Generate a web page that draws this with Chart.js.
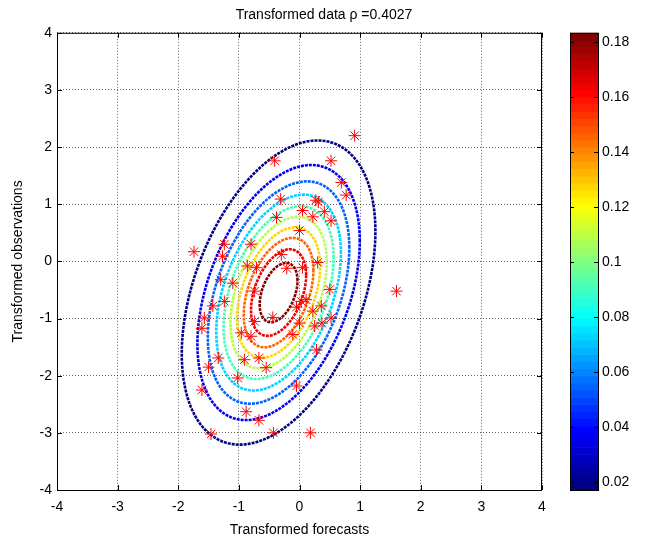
<!DOCTYPE html>
<html>
<head>
<meta charset="utf-8">
<script src="https://cdn.jsdelivr.net/npm/chart.js@4.4.1/dist/chart.umd.min.js"></script>
<style>
  html, body { margin: 0; padding: 0; background: #fff; }
  #wrap { width: 648px; height: 544px; }
</style>
</head>
<body>
<div id="wrap"><canvas id="c" width="648" height="544"></canvas></div>
<script>
// tick labels
const xTicks = [-4, -3, -2, -1, 0, 1, 2, 3, 4];
const yTicks = [-4, -3, -2, -1, 0, 1, 2, 3, 4];
const cbTicks = [0.02, 0.04, 0.06, 0.08, 0.1, 0.12, 0.14, 0.16, 0.18];
const cbRange = [0.0172, 0.1833];

// contour levels of the fitted density
const contourLevels = [0.0172, 0.0357, 0.0541, 0.0726, 0.0910, 0.1095, 0.1280, 0.1464, 0.1649, 0.1833];
const rho = 0.4027;
const meanXY = [-0.345, -0.545];
const sigmaXY = [0.72, 1.20];

// transformed (forecast, observation) pairs
const obsX = [0.91, -0.41, 0.52, 0.69, 0.77, -0.31, 0.27, 0.31, 0.05, 0.41, 0.22, -0.38, 0.52, 0.00,
  -1.74, -1.24, -0.80, -1.27, -0.30, -0.86, -0.71, -0.21, 0.05, 0.30, -1.30, -1.10, -0.74, 0.50, 1.60,
  -1.24, -1.43, 0.03, 0.11, 0.36, -0.05, 0.22, -1.57, -0.44, -0.74, 0.00, 0.37, 0.52, 0.25, -1.61,
  -0.96, -0.80, -0.11, 0.28, -1.34, -0.91, -0.67, -1.50, -0.55, -1.02, -0.05, -1.61, -0.88, -0.67,
  -1.46, -0.43, 0.18];
const obsY = [2.20, 1.76, 1.76, 1.38, 1.16, 1.09, 1.07, 1.04, 0.89, 0.87, 0.78, 0.77, 0.71, 0.54,
  0.17, 0.30, 0.30, 0.09, 0.12, -0.08, -0.11, -0.12, -0.11, -0.02, -0.32, -0.38, -0.52, -0.49, -0.52,
  -0.70, -0.78, -0.70, -0.67, -0.78, -0.80, -0.87, -0.99, -0.98, -1.05, -1.08, -1.08, -0.99, -1.13, -1.17,
  -1.25, -1.31, -1.28, -1.55, -1.69, -1.72, -1.69, -1.85, -1.86, -2.04, -2.18, -2.25, -2.63, -2.78,
  -3.02, -3.00, -3.00];

const FONT = { family: "'Liberation Sans', Arial, sans-serif", size: 14, weight: 'normal' };

function jet(t) {
  const cl = v => Math.max(0, Math.min(1, v));
  const r = cl(Math.min(4 * t - 1.5, -4 * t + 4.5));
  const g = cl(Math.min(4 * t - 0.5, -4 * t + 3.5));
  const b = cl(Math.min(4 * t + 0.5, -4 * t + 2.5));
  return 'rgb(' + Math.round(r * 255) + ',' + Math.round(g * 255) + ',' + Math.round(b * 255) + ')';
}

function levelColor(level) {
  const t = (level - cbRange[0]) / (cbRange[1] - cbRange[0]);
  return jet(Math.min(63, Math.max(0, Math.floor(t * 64))) / 63);
}

// iso-density line of the bivariate normal
function contourRing(level) {
  const sx = sigmaXY[0], sy = sigmaXY[1];
  const peak = 1 / (2 * Math.PI * sx * sy * Math.sqrt(1 - rho * rho));
  const c = Math.sqrt(2 * Math.log(peak / level));
  const pts = [];
  for (let k = 0; k <= 160; k++) {
    const a = 2 * Math.PI * k / 160;
    const u = Math.cos(a), v = Math.sin(a);
    pts.push({
      x: meanXY[0] + c * sx * u,
      y: meanXY[1] + c * sy * (rho * u + Math.sqrt(1 - rho * rho) * v)
    });
  }
  return pts;
}

const datasets = [{
  data: obsX.map((x, i) => ({ x: x, y: obsY[i] })),
  pointStyle: 'star',
  pointRadius: 6,
  borderColor: '#ff0000',
  backgroundColor: '#ff0000',
  borderWidth: 1,
  showLine: false
}];
contourLevels.forEach(l => {
  datasets.push({
    data: contourRing(l),
    showLine: true,
    pointRadius: 0,
    borderColor: levelColor(l),
    borderWidth: 2.6,
    borderDash: [3, 1],
    fill: false,
    tension: 0
  });
});

const noPad = s => { s.paddingTop = 0; s.paddingBottom = 0; s.paddingLeft = 0; s.paddingRight = 0; };

const matlabFrame = {
  id: 'matlabFrame',
  afterDraw(chart) {
    const ctx = chart.ctx;
    const a = chart.chartArea;
    const sx = chart.scales.x, sy = chart.scales.y, cb = chart.scales.cb;
    ctx.save();
    ctx.strokeStyle = '#000';
    ctx.lineWidth = 1;
    ctx.strokeRect(a.left + 0.5, a.top + 0.5, a.right - a.left - 1, a.bottom - a.top);
    const tl = 5;
    ctx.beginPath();
    xTicks.forEach(v => {
      const px = Math.round(sx.getPixelForValue(v)) + 0.5;
      ctx.moveTo(px, a.bottom); ctx.lineTo(px, a.bottom - tl);
      ctx.moveTo(px, a.top); ctx.lineTo(px, a.top + tl);
    });
    yTicks.forEach(v => {
      const py = Math.round(sy.getPixelForValue(v)) + 0.5;
      ctx.moveTo(a.left, py); ctx.lineTo(a.left + tl, py);
      ctx.moveTo(a.right, py); ctx.lineTo(a.right - tl, py);
    });
    ctx.stroke();

    // colorbar
    const x0 = cb.left + 28, w = 28;
    const n = 64;
    for (let i = 0; i < n; i++) {
      const v0 = cbRange[0] + (cbRange[1] - cbRange[0]) * i / n;
      const v1 = cbRange[0] + (cbRange[1] - cbRange[0]) * (i + 1) / n;
      const p0 = cb.getPixelForValue(v0), p1 = cb.getPixelForValue(v1);
      ctx.fillStyle = jet(i / (n - 1));
      ctx.fillRect(x0, p1, w, p0 - p1 + 0.6);
    }
    const ct = cb.getPixelForValue(cbRange[1]), cbt = cb.getPixelForValue(cbRange[0]);
    ctx.strokeRect(x0 + 0.5, ct + 0.5, w, cbt - ct);
    ctx.beginPath();
    cbTicks.forEach(v => {
      const py = Math.round(cb.getPixelForValue(v)) + 0.5;
      ctx.moveTo(x0, py); ctx.lineTo(x0 + 4, py);
      ctx.moveTo(x0 + w, py); ctx.lineTo(x0 + w - 4, py);
    });
    ctx.stroke();
    ctx.restore();
  }
};

new Chart(document.getElementById('c'), {
  type: 'scatter',
  data: { datasets: datasets },
  options: {
    responsive: false,
    animation: false,
    layout: { padding: 0 },
    plugins: {
      legend: { display: false },
      tooltip: { enabled: false },
      title: {
        display: true,
        text: 'Transformed data \u03c1 =0.4027',
        color: '#000',
        font: FONT,
        padding: { top: 7, bottom: 9 }
      }
    },
    scales: {
      x: {
        type: 'linear', min: -4, max: 4,
        afterBuildTicks: s => { s.ticks = xTicks.map(v => ({ value: v })); },
        afterFit: s => { s.height = 54; noPad(s); },
        ticks: { color: '#000', font: FONT, padding: 9, maxRotation: 0 },
        grid: { color: 'rgba(0,0,0,0.6)', lineWidth: 1, drawTicks: false },
        border: { display: false, dash: [1, 2] },
        title: { display: true, text: 'Transformed forecasts', color: '#000', font: FONT, padding: { top: 0, bottom: 5 } }
      },
      y: {
        type: 'linear', min: -4, max: 4,
        afterBuildTicks: s => { s.ticks = yTicks.map(v => ({ value: v })); },
        afterFit: s => { s.width = 57; noPad(s); },
        ticks: { color: '#000', font: FONT, padding: 5 },
        grid: { color: 'rgba(0,0,0,0.6)', lineWidth: 1, drawTicks: false },
        border: { display: false, dash: [1, 2] },
        title: { display: true, text: 'Transformed observations', color: '#000', font: FONT, padding: { top: 10, bottom: 0 } }
      },
      cb: {
        type: 'linear', axis: 'y', position: 'right',
        min: cbRange[0], max: cbRange[1],
        afterBuildTicks: s => { s.ticks = cbTicks.map(v => ({ value: v })); },
        afterFit: s => { s.width = 106; noPad(s); },
        ticks: { color: '#000', font: FONT, padding: 60, callback: v => String(v) },
        grid: { display: false, drawTicks: false, drawOnChartArea: false },
        border: { display: false }
      }
    }
  },
  plugins: [matlabFrame]
});
</script>
</body>
</html>
